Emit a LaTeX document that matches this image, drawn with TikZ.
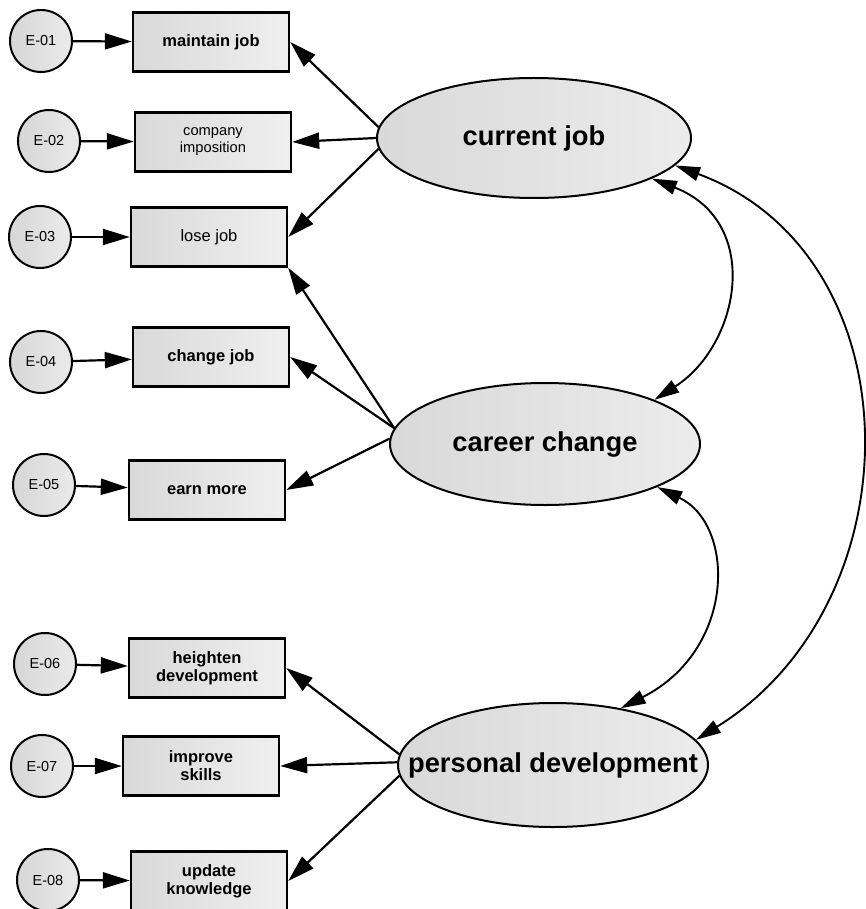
\documentclass[tikz,border=0pt]{standalone}
\usepackage{fontspec}
\setmainfont{Liberation Sans}
\usetikzlibrary{arrows.meta,shapes.geometric}
\begin{document}
\begin{tikzpicture}[x=1pt,y=-1pt,
  errnode/.style={circle,draw,line width=2pt,minimum size=62pt,inner sep=0pt,
    left color=gray!32,right color=gray!16,font=\fontsize{14.5}{16}\selectfont},
  indbox/.style={rectangle,draw,line width=2.4pt,minimum width=156pt,minimum height=59pt,
    inner sep=2pt,align=center,left color=gray!30,right color=gray!12,
    font=\bfseries\fontsize{16.5}{18}\selectfont},
  latent/.style={ellipse,draw,line width=2pt,inner xsep=-40pt,inner ysep=0pt,
    left color=gray!30,right color=gray!15,font=\bfseries\fontsize{27.3}{30}\selectfont},
  load/.style={draw,line width=2.2pt,-{Triangle[length=27pt,width=16pt]}},
  cov/.style={draw,line width=1.9pt,{Triangle[length=25pt,width=14pt]}-{Triangle[length=25pt,width=14pt]}}
]
\useasboundingbox[fill=white] (0,0) rectangle (865,909);

% latent variables
\node[latent,minimum width=314pt,minimum height=120pt] (cj) at (534,138) {current job};
\node[latent,minimum width=310pt,minimum height=122pt] (cc) at (545,444) {career change};
\node[latent,minimum width=310pt,minimum height=124pt] (pd) at (553,765) {personal development};

% observed indicators
\node[indbox] (b1) at (211,42) {maintain job};
\node[indbox,font=\fontsize{14.7}{17}\selectfont] (b2) at (213,142) {company\\imposition};
\node[indbox,font=\fontsize{16.5}{18}\selectfont] (b3) at (209,237) {lose job};
\node[indbox] (b4) at (211,357) {change job};
\node[indbox] (b5) at (207,490) {earn more};
\node[indbox] (b6) at (207,668) {heighten\\development};
\node[indbox] (b7) at (201,766) {improve\\skills};
\node[indbox] (b8) at (209,881) {update\\knowledge};

% error terms
\node[errnode] (e1) at (41,41) {E-01};
\node[errnode] (e2) at (49,141) {E-02};
\node[errnode] (e3) at (40,237) {E-03};
\node[errnode] (e4) at (41,362) {E-04};
\node[errnode] (e5) at (44,485) {E-05};
\node[errnode] (e6) at (45,664) {E-06};
\node[errnode] (e7) at (42,766) {E-07};
\node[errnode] (e8) at (48,880) {E-08};

% error paths
\foreach \i in {1,...,8} \draw[load] (e\i) -- (b\i);

% factor loadings
\draw[load] (cj.176) -- (b1.east);
\draw[load] (cj.180) -- (b2.east);
\draw[load] (cj.184) -- (b3.east);
\draw[load] (cc.174) -- (b3.south east);
\draw[load] (cc.174) -- (b4.east);
\draw[load] (cc.178) -- (b5.east);
\draw[load] (pd.176) -- (b6.east);
\draw[load] (pd.179) -- (b7.east);
\draw[load] (pd.184) -- (b8.east);

% covariances
\draw[cov] (cj.-19) .. controls (763,222) and (740,345) .. (cc.22);
\draw[cov] (cj.-11) .. controls (917,255) and (918,602) .. (pd.10);
\draw[cov] (cc.-21) .. controls (736,525) and (736,650) .. (pd.40);
\end{tikzpicture}
\end{document}
